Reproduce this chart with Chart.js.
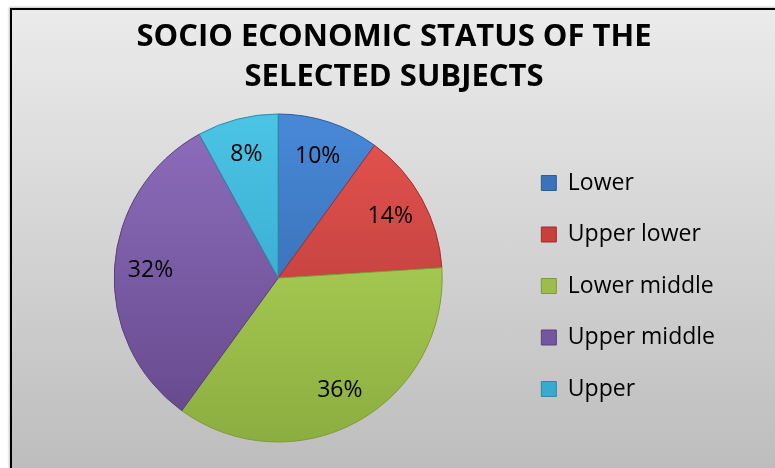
<!DOCTYPE html>
<html>

<head>
    <title>Socio Economic Status</title>
    <style>
        body {
            margin: 0;
            background: #fff;
        }

        #frame {
            position: absolute;
            left: 10px;
            top: 8px;
            width: 800px;
            height: 470px;
            border: 2px solid #000;
            box-shadow: -1px -1px 2px rgba(0, 0, 0, 0.25);
            background: linear-gradient(#ebebeb, #bcbcbc);
        }

        #myChart {
            position: absolute;
            left: 0;
            top: 0;
        }
    </style>
    <script src="https://cdn.jsdelivr.net/npm/chart.js"></script>
</head>

<body>
    <div id="frame"></div>
    <canvas id="myChart" width="775" height="468"></canvas>

    <script>
        // Pie data
        const categories = ['Lower', 'Upper lower', 'Lower middle', 'Upper middle', 'Upper'];
        const shares = [10, 14, 36, 32, 8];
        const titleLines = ['SOCIO ECONOMIC STATUS OF THE', 'SELECTED SUBJECTS'];

        // Slice shading, light at the top of the pie and darker at the bottom
        const topColors = ['#4889d8', '#e65450', '#b8de5e', '#8e6ebe', '#4cc4e6'];
        const bottomColors = ['#305fa0', '#ac3532', '#8cad40', '#634789', '#2a9bbd'];
        const edgeColors = ['#2f5d96', '#9c2f2c', '#7e9c38', '#5a417c', '#2a8aa8'];
        const keyColors = ['#3a72bc', '#c8403c', '#9cbc4c', '#7456a0', '#35abcf'];

        const pieRadius = 164;

        function sliceFill(c) {
            const i = c.dataIndex;
            const area = c.chart.chartArea;
            if (!area) return topColors[i];
            const cy = (area.top + area.bottom) / 2;
            const g = c.chart.ctx.createLinearGradient(0, cy - pieRadius, 0, cy + pieRadius);
            g.addColorStop(0, topColors[i]);
            g.addColorStop(1, bottomColors[i]);
            return g;
        }

        // Percent labels inside each slice
        const sliceLabels = {
            id: 'sliceLabels',
            afterDatasetsDraw(chart) {
                const ctx = chart.ctx;
                const meta = chart.getDatasetMeta(0);
                ctx.save();
                ctx.font = '23px "Open Sans"';
                ctx.fillStyle = '#000';
                ctx.textAlign = 'center';
                ctx.textBaseline = 'middle';
                meta.data.forEach((arc, i) => {
                    const mid = (arc.startAngle + arc.endAngle) / 2;
                    const r = arc.outerRadius * 0.78;
                    ctx.fillText(shares[i] + '%', arc.x + Math.cos(mid) * r, arc.y + Math.sin(mid) * r);
                });
                ctx.restore();
            }
        };

        function draw() {
            const ctx = document.getElementById('myChart').getContext('2d');

            new Chart(ctx, {
                type: 'pie',
                data: {
                    labels: categories,
                    datasets: [{
                        data: shares,
                        backgroundColor: sliceFill,
                        borderColor: edgeColors,
                        borderWidth: 1,
                        radius: pieRadius
                    }]
                },
                options: {
                    responsive: false,
                    animation: false,
                    layout: {
                        padding: { left: 43.5, right: 30.5, top: 0, bottom: 24 }
                    },
                    plugins: {
                        tooltip: { enabled: false },
                        title: {
                            display: true,
                            text: titleLines,
                            color: '#000',
                            font: { family: 'Open Sans', size: 31, weight: 'bold', lineHeight: 40 / 31 },
                            padding: { top: 17.5, bottom: 14.5 }
                        },
                        // empty box at the far right keeps the legend in from the edge
                        subtitle: {
                            display: true,
                            position: 'right',
                            text: '',
                            font: { size: 10, lineHeight: 1 },
                            padding: { top: 0, bottom: 9.5 }
                        },
                        legend: {
                            position: 'right',
                            fullSize: false,
                            maxWidth: 260,
                            // blank legend title nudges the entries down a bit
                            title: { display: true, text: '', padding: 0, font: { size: 16, lineHeight: 1 } },
                            labels: {
                                boxWidth: 15,
                                boxHeight: 15,
                                padding: 28.5,
                                color: '#000',
                                font: { family: 'Open Sans', size: 23 },
                                generateLabels: (chart) => categories.map((name, i) => ({
                                    text: name,
                                    fillStyle: keyColors[i],
                                    strokeStyle: edgeColors[i],
                                    fontColor: '#000',
                                    lineWidth: 1,
                                    hidden: false,
                                    index: i
                                }))
                            }
                        }
                    }
                },
                plugins: [sliceLabels]
            });
        }

        Promise.all([
            document.fonts.load('23px "Open Sans"'),
            document.fonts.load('bold 31px "Open Sans"')
        ]).then(draw, draw);
    </script>
</body>

</html>
